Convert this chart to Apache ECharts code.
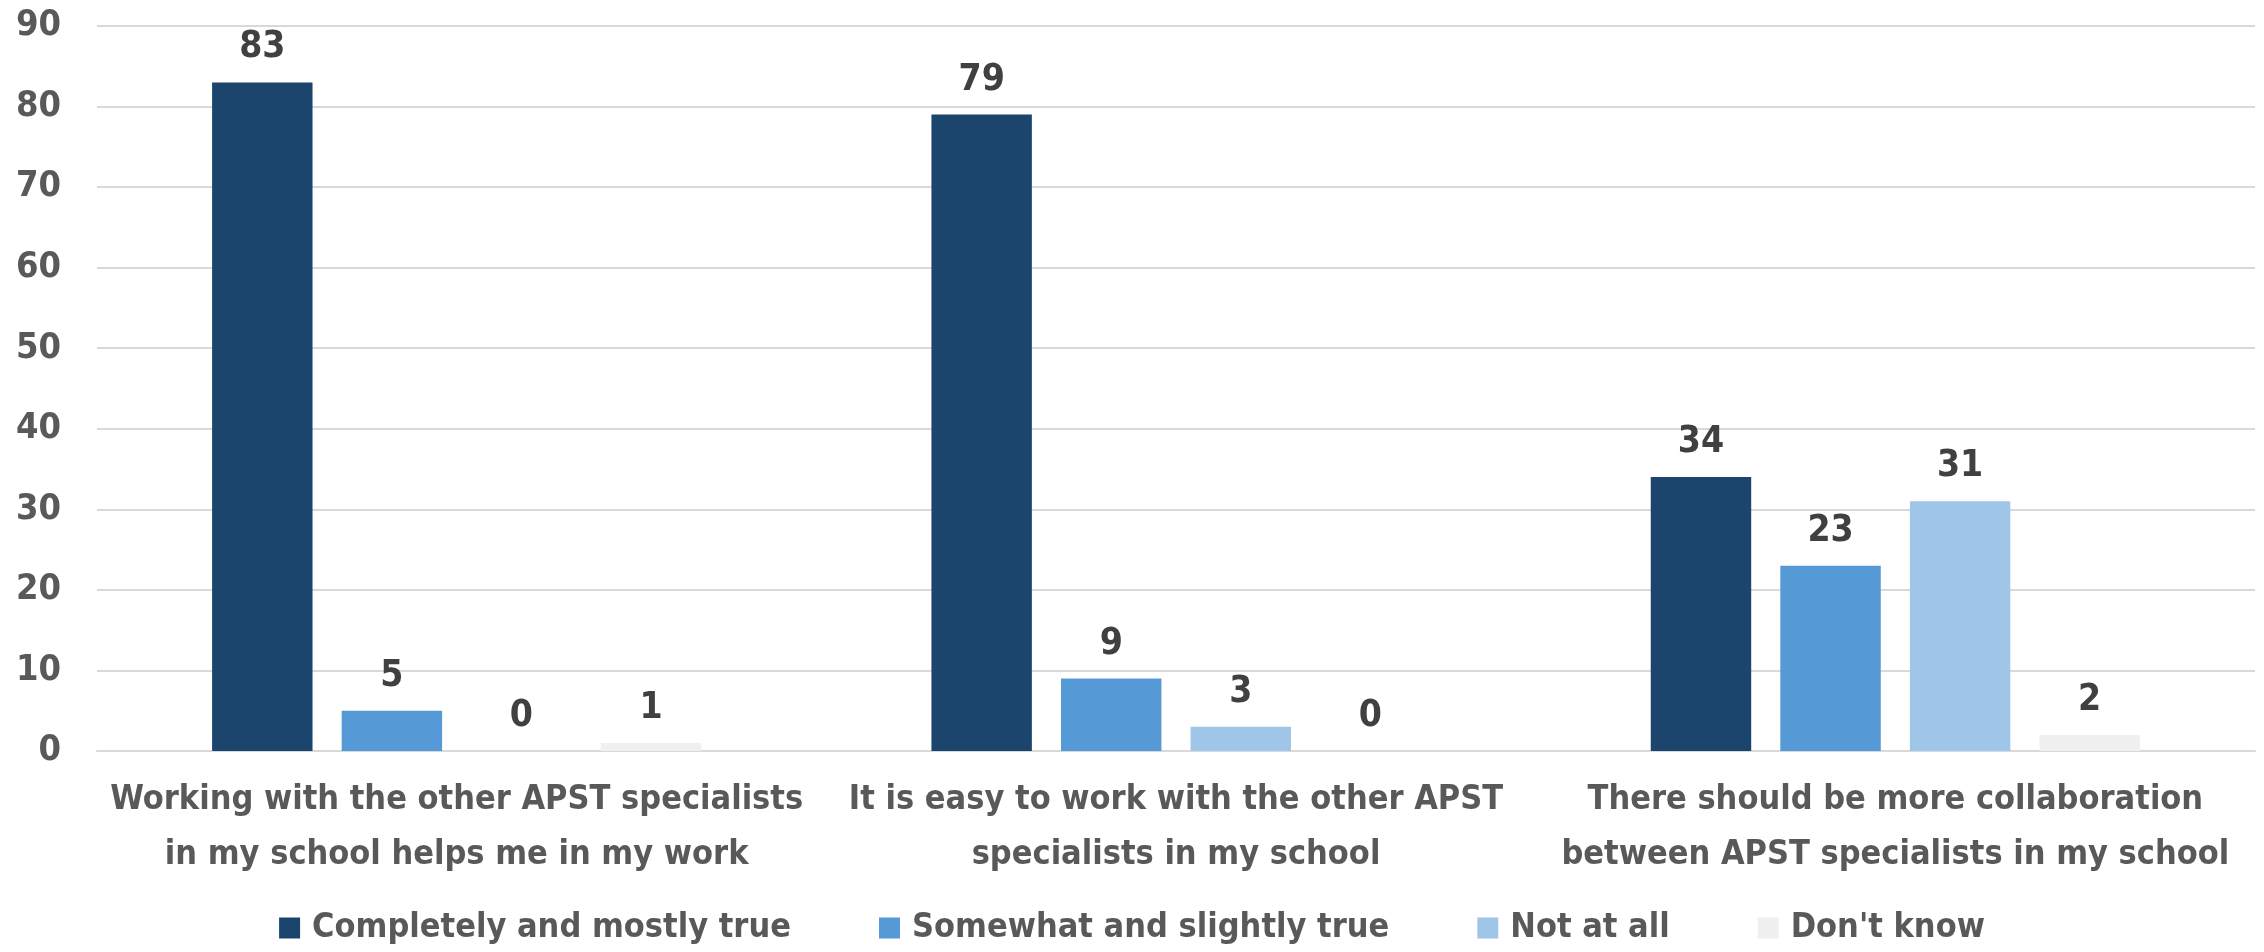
<!DOCTYPE html>
<html>
<head>
<meta charset="utf-8">
<script src="https://cdn.jsdelivr.net/npm/echarts@6/dist/echarts.min.js"></script>
<style>
  html, body { margin: 0; padding: 0; background: #fff; }
  #main { width: 2264px; height: 952px; }
</style>
</head>
<body>
<div id="main"></div>
<script>
// categories and series
var categories = [
  'Working with the other APST specialists\nin my school helps me in my work',
  'It is easy to work with the other APST\nspecialists in my school',
  'There should be more collaboration\nbetween APST specialists in my school'
]
var seriesNames = ['Completely and mostly true', 'Somewhat and slightly true', 'Not at all', "Don't know"]
var completelyTrue = [83, 79, 34]
var somewhatTrue = [5, 9, 23]
var notAtAll = [0, 3, 31]
var dontKnow = [1, 0, 2]
var colors = ['#1c456e', '#5599d6', '#9fc5e8', '#f0f0f0']

var font = '"Liberation Sans Narrow", "DejaVu Sans Condensed", sans-serif'

var myChart = echarts.init(document.getElementById('main'))

var seriesData = [completelyTrue, somewhatTrue, notAtAll, dontKnow]
var series = seriesData.map(function (d, i) {
  return {
    name: seriesNames[i],
    type: 'bar',
    data: d,
    barGap: '29%',
    barCategoryGap: '32%',
    itemStyle: { color: colors[i] },
    label: {
      show: true,
      position: 'top',
      distance: 16,
      color: '#404040',
      fontFamily: font,
      fontWeight: 'bold',
      fontSize: 37
    }
  }
})

myChart.setOption({
  animation: false,
  color: colors,
  grid: { left: 97, right: 9, top: 26, bottom: 201, containLabel: false },
  legend: {
    bottom: 2,
    left: 'center',
    itemWidth: 21,
    itemHeight: 21,
    itemGap: 88,
    icon: 'rect',
    textStyle: { color: '#595959', fontFamily: font, fontWeight: 'bold', fontSize: 34, padding: [0, 0, 0, 7] },
    data: seriesNames
  },
  xAxis: {
    type: 'category',
    data: categories,
    axisTick: { show: false },
    axisLine: { lineStyle: { color: '#d9d9d9', width: 2 } },
    axisLabel: {
      interval: 0,
      color: '#595959',
      fontFamily: font,
      fontWeight: 'bold',
      fontSize: 34,
      lineHeight: 55,
      margin: 22
    }
  },
  yAxis: {
    type: 'value',
    min: 0,
    max: 90,
    interval: 10,
    axisLine: { show: false },
    axisTick: { show: false },
    splitLine: { lineStyle: { color: '#d9d9d9', width: 2 } },
    axisLabel: {
      color: '#595959',
      fontFamily: font,
      fontWeight: 'bold',
      fontSize: 36,
      margin: 36
    }
  },
  series: series
})
</script>
</body>
</html>
